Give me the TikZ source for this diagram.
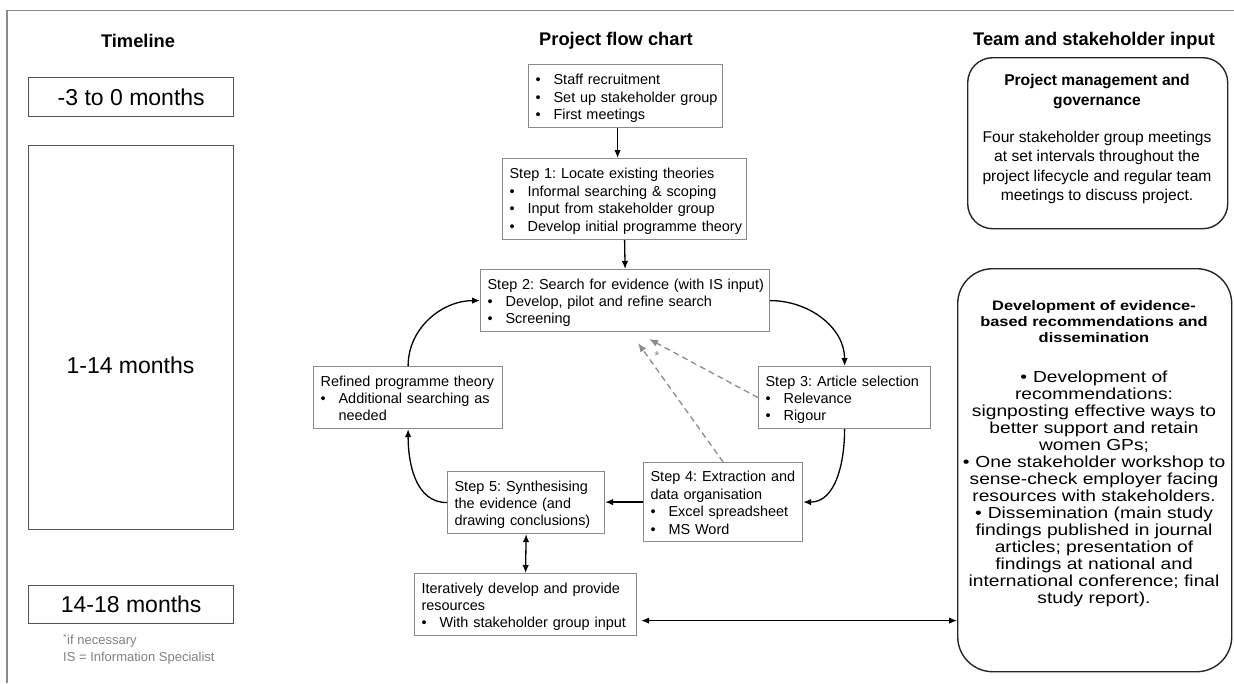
\documentclass[tikz,border=0pt]{standalone}
\usepackage{fontspec}
\setmainfont{Liberation Sans}
\newfontfamily\widefont[FakeStretch=1.2]{Liberation Sans}
\usetikzlibrary{arrows.meta}
\definecolor{boxgray}{HTML}{8A8A8A}
\definecolor{tlgray}{HTML}{555555}
\definecolor{rgray}{HTML}{262626}
\definecolor{framegray}{HTML}{8A8A8A}
\definecolor{dashgray}{HTML}{8C8C8C}
\definecolor{notegray}{HTML}{808080}
\frenchspacing
\newcommand{\bul}{\makebox[18pt][l]{\textbullet}}
\newcommand{\flines}[1]{\raisebox{-2.5pt}[\height][\depth]{\begin{tabular}{@{}l@{}}#1\end{tabular}}}
\newcommand{\rbul}{\textbullet\hspace{6pt}}
\begin{document}
\begin{tikzpicture}[x=1pt,y=-1pt,
  ttl/.style={font=\bfseries\fontsize{18.3}{22}\selectfont, inner sep=0pt},
  tlbox/.style={draw=tlgray, line width=1.4pt, anchor=north west, inner sep=0pt, font=\fontsize{23}{27}\selectfont},
  flowbox/.style={draw=boxgray, line width=1.2pt, anchor=north west, inner xsep=7pt, inner ysep=0pt, align=left, font=\fontsize{14.45}{17.4}\selectfont},
  rbox/.style={draw=rgray, line width=1.4pt, anchor=north west, inner sep=0pt},
  arr/.style={-{Latex[length=8pt,width=6.5pt]}, line width=1.3pt},
  dblarr/.style={{Latex[length=8pt,width=6.5pt]}-{Latex[length=8pt,width=6.5pt]}, line width=1.3pt},
  dasharr/.style={draw=dashgray, dashed, dash pattern=on 6pt off 4pt, line width=1.3pt, -{Latex[length=9pt,width=7pt]}, dashgray}
]
\useasboundingbox (0,0) rectangle (1234,683);
% frame
\draw[framegray, line width=1.8pt] (7,683) -- (7,10.5) -- (1234,10.5);

% titles
\node[ttl] (ttime) at (138,41) {Timeline};
\node[ttl] (tflow) at (616,41) {Project flow chart};
\node[ttl] (tteam) at (1094,41) {Team and stakeholder input};

% timeline
\node[tlbox, minimum width=205pt, minimum height=39pt] (t1) at (28,77) {-3 to 0 months};
\node[tlbox, minimum width=205pt, minimum height=384pt] (t2) at (28,145) {};
\node[font=\fontsize{23}{27}\selectfont, inner sep=0pt] (t2l) at (130.5,365) {1-14 months};
\node[tlbox, minimum width=205pt, minimum height=38pt] (t3) at (28,585) {14-18 months};
\node[anchor=north west, align=left, text=notegray, font=\fontsize{13}{17}\selectfont, inner sep=0pt] (fn) at (63,634) {\textsuperscript{*}if necessary\\IS = Information Specialist};

% flow chart
\node[flowbox, text width=180pt, minimum height=63pt] (tb) at (528,64)
  {\flines{\bul Staff recruitment\\\bul Set up stakeholder group\\\bul First meetings}};
\node[flowbox, text width=230pt, minimum height=81pt] (s1) at (502,158)
  {\flines{Step 1: Locate existing theories\\\bul Informal searching \& scoping\\\bul Input from stakeholder group\\\bul Develop initial programme theory}};
\node[flowbox, text width=275pt, minimum height=62pt] (s2) at (480,269)
  {\flines{Step 2: Search for evidence (with IS input)\\\bul Develop, pilot and refine search\\\bul Screening}};
\node[flowbox, text width=175pt, minimum height=62pt] (ref) at (313,366)
  {\flines{Refined programme theory\\\bul Additional searching as\\\hspace*{18pt}needed}};
\node[flowbox, text width=158pt, minimum height=62pt] (s3) at (758,366)
  {\flines{Step 3: Article selection\\\bul Relevance\\\bul Rigour}};
\node[flowbox, text width=145pt, minimum height=79pt] (s4) at (643,462)
  {\flines{Step 4: Extraction and\\data organisation\\\bul Excel spreadsheet\\\bul MS Word}};
\node[flowbox, text width=143pt, minimum height=62pt] (s5) at (447,471)
  {\flines{Step 5: Synthesising\\the evidence (and\\drawing conclusions)}};
\node[flowbox, text width=208pt, minimum height=62pt] (it) at (414,573)
  {\flines{Iteratively develop and provide\\resources\\\bul With stakeholder group input}};

% right column
\node[rbox, minimum width=260pt, minimum height=171pt, rounded corners=25pt] (pm) at (967,57) {};
\node[anchor=north, align=center, font=\bfseries\fontsize{15.6}{19.5}\selectfont, inner sep=0pt] (pmh) at (1097,74)
  {Project management and\\governance};
\node[anchor=north, align=center, font=\fontsize{15.6}{19.4}\selectfont, inner sep=0pt] (pmb) at (1097,131)
  {Four stakeholder group meetings\\at set intervals throughout the\\project lifecycle and regular team\\meetings to discuss project.};

\node[rbox, minimum width=274pt, minimum height=403pt, rounded corners=35pt] (dev) at (957,268) {};
\node[anchor=north, align=center, font=\widefont\bfseries\fontsize{13.7}{16}\selectfont, inner sep=0pt] (devh) at (1094,300)
  {Development of evidence-\\based recommendations and\\dissemination};
\node[anchor=north, align=center, font=\widefont\fontsize{16}{17}\selectfont, inner sep=0pt] (devb) at (1094,371)
  {\rbul Development of\\recommendations:\\signposting effective ways to\\better support and retain\\women GPs;\\\rbul One stakeholder workshop to\\sense-check employer facing\\resources with stakeholders.\\\rbul Dissemination (main study\\findings published in journal\\articles; presentation of\\findings at national and\\international conference; final\\study report).};

% connectors
\draw[arr] ([xshift=-8pt]tb.south) -- ([xshift=-8pt]tb.south |- s1.north);
\draw[arr] (s1.south) -- (s2.north);
\draw[arr] (s2.east) to[out=0,in=90] (s3.north);
\draw[arr] (s3.south) to[out=-90,in=0] (s4.east);
\draw[arr] (s4.west) -- (s4.west -| s5.east);
\draw[arr] (s5.west) to[out=180,in=-90] (ref.south);
\draw[arr] (ref.north) to[out=90,in=180] (s2.west);
\draw[dblarr] (s5.south) -- (it.north);
\draw[dblarr] ([shift={(4pt,-16pt)}]it.east) coordinate (ia) -- (ia -| dev.west);

\coordinate (d3) at (649,339);
\coordinate (d4) at (638,343);
\draw[dasharr] (s3.west) -- (d3);
\draw[dasharr] (s4.north) -- (d4);
\node[text=dashgray, font=\fontsize{13}{15}\selectfont, inner sep=0pt] (ast) at (657,356) {*};
\end{tikzpicture}
\end{document}
